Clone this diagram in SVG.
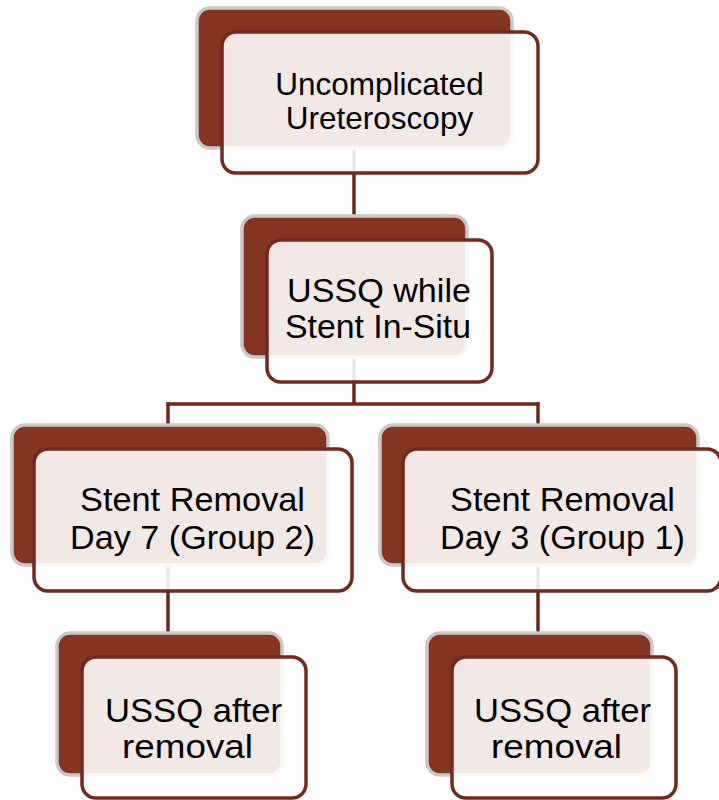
<svg xmlns="http://www.w3.org/2000/svg" width="719" height="800" viewBox="0 0 719 800">
<style>
.back{fill:#853421;stroke:#c9c9c9;stroke-width:3.5}
.front{fill:#ffffff;fill-opacity:0.89;stroke:#74291c;stroke-width:3.5}
.conn{fill:none;stroke:#6e2718;stroke-width:3.5}
text{font-family:"Liberation Sans",Arial,sans-serif;font-size:31.5px;fill:#000;text-anchor:middle}
.big{font-size:33px}
</style>
<rect width="719" height="800" fill="#ffffff"/>
<g id="connectors">
<path class="conn" d="M354,148 V216"/>
<path class="conn" d="M354,357 V404 M168,404 H538 M168,402 V425 M538,402 V425"/>
<path class="conn" d="M168,565 V633"/>
<path class="conn" d="M538,565 V633"/>
</g>
<g id="n1">
<rect class="back" x="197" y="8" width="315" height="140" rx="13"/>
<rect class="front" x="222" y="32" width="316" height="141" rx="14"/>
<text x="379.5" y="95">Uncomplicated</text>
<text x="379.5" y="129">Ureteroscopy</text>
</g>
<g id="n2">
<rect class="back" x="242" y="216" width="225" height="141" rx="13"/>
<rect class="front" x="267" y="240" width="225" height="142" rx="14"/>
<text class="big" x="379" y="302" textLength="184" lengthAdjust="spacingAndGlyphs">USSQ while</text>
<text class="big" x="378" y="338" textLength="186" lengthAdjust="spacingAndGlyphs">Stent In-Situ</text>
</g>
<g id="n3">
<rect class="back" x="12" y="425" width="316" height="140" rx="13"/>
<rect class="front" x="34" y="449" width="318" height="142" rx="14"/>
<text class="big" x="192.5" y="511" textLength="225" lengthAdjust="spacingAndGlyphs">Stent Removal</text>
<text class="big" x="192.5" y="549" textLength="245" lengthAdjust="spacingAndGlyphs">Day 7 (Group 2)</text>
</g>
<g id="n4">
<rect class="back" x="380" y="425" width="318" height="140" rx="13"/>
<rect class="front" x="403" y="449" width="318" height="142" rx="14"/>
<text class="big" x="562.5" y="511" textLength="225" lengthAdjust="spacingAndGlyphs">Stent Removal</text>
<text class="big" x="562.5" y="549" textLength="245" lengthAdjust="spacingAndGlyphs">Day 3 (Group 1)</text>
</g>
<g id="n5">
<rect class="back" x="57" y="633" width="225" height="142" rx="13"/>
<rect class="front" x="82" y="657" width="224" height="141" rx="14"/>
<text class="big" x="193.5" y="722" textLength="177" lengthAdjust="spacingAndGlyphs">USSQ after</text>
<text class="big" x="187.5" y="758" textLength="131" lengthAdjust="spacingAndGlyphs">removal</text>
</g>
<g id="n6">
<rect class="back" x="427" y="633" width="225" height="142" rx="13"/>
<rect class="front" x="452" y="657" width="224" height="141" rx="14"/>
<text class="big" x="562.5" y="722" textLength="177" lengthAdjust="spacingAndGlyphs">USSQ after</text>
<text class="big" x="556.5" y="758" textLength="131" lengthAdjust="spacingAndGlyphs">removal</text>
</g>
</svg>
